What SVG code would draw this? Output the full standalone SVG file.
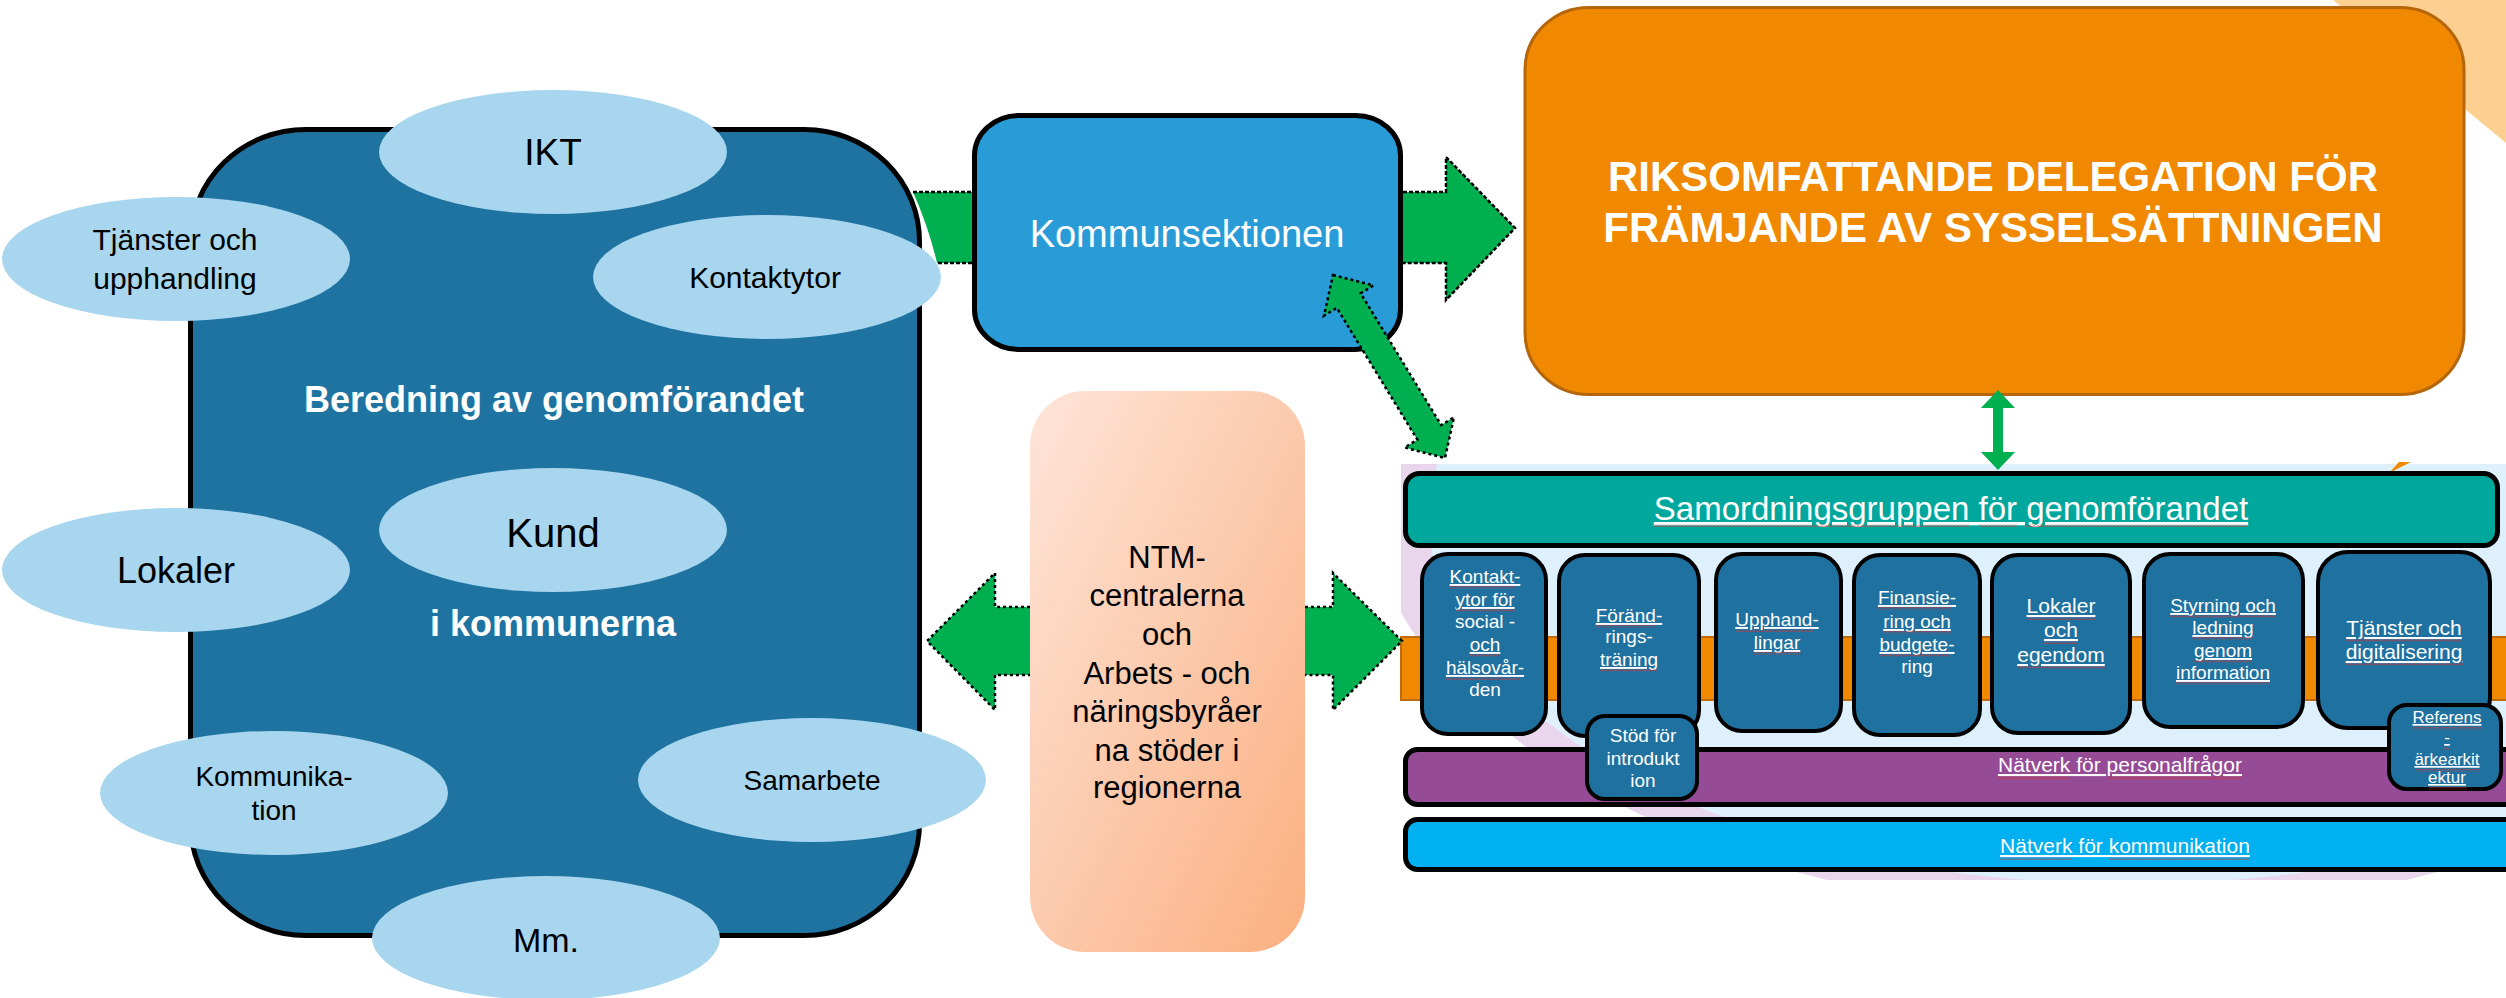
<svg xmlns="http://www.w3.org/2000/svg" width="2506" height="998" viewBox="0 0 2506 998">
<style>
text{font-family:"Liberation Sans",Arial,sans-serif}
.ell{fill:#A7D6EE}
.et{fill:#000;text-anchor:middle}
.wt{fill:#fff;text-anchor:middle}
.b{font-weight:bold}
.col{fill:#1F71A0;stroke:#000;stroke-width:4}
.bar{stroke:#000;stroke-width:5}
.u{text-decoration:underline}
.sq{fill:url(#sq)}
.arr{fill:#00B050;stroke:#000;stroke-width:2.5;stroke-dasharray:3 3}
</style>
<defs>
<pattern id="sq" width="4" height="3" patternUnits="userSpaceOnUse"><path d="M0,2.5 L2,0.5 L4,2.5" fill="none" stroke="#E0302A" stroke-width="0.9"/></pattern>
<linearGradient id="ntm" x1="0" y1="0" x2="1" y2="1"><stop offset="0" stop-color="#FDE5D9"/><stop offset="1" stop-color="#FBAF80"/></linearGradient>
<clipPath id="pc"><rect x="1401" y="464" width="1105" height="416"/></clipPath>
</defs>

<polygon points="2333,0 2506,0 2506,143" fill="#FDD092"/>

<g id="beredning">
<rect x="190.5" y="129.5" width="729" height="806" rx="115" ry="112" fill="#1F73A0" stroke="#000" stroke-width="5"/>
<text class="wt b" x="554" y="412" font-size="36">Beredning av genomförandet</text>
<text class="wt b" x="553" y="636" font-size="36">i kommunerna</text>
</g>
<g id="ikt"><ellipse class="ell" cx="553" cy="152" rx="174" ry="62"/><text class="et" x="553" y="165" font-size="37">IKT</text></g>
<g id="tjanster"><ellipse class="ell" cx="176" cy="259" rx="174" ry="62"/><text class="et" font-size="30"><tspan x="175" y="250">Tjänster och</tspan><tspan x="175" y="289">upphandling</tspan></text></g>
<g id="kontaktytor"><ellipse class="ell" cx="767" cy="277" rx="174" ry="62"/><text class="et" x="765" y="288" font-size="30">Kontaktytor</text></g>
<g id="kund"><ellipse class="ell" cx="553" cy="530" rx="174" ry="62"/><text class="et" x="553" y="547" font-size="40">Kund</text></g>
<g id="lokaler"><ellipse class="ell" cx="176" cy="570" rx="174" ry="62"/><text class="et" x="176" y="583" font-size="36">Lokaler</text></g>
<g id="kommunikation"><ellipse class="ell" cx="274" cy="793" rx="174" ry="62"/><text class="et" font-size="28"><tspan x="274" y="786">Kommunika-</tspan><tspan x="274" y="820">tion</tspan></text></g>
<g id="samarbete"><ellipse class="ell" cx="812" cy="780" rx="174" ry="62"/><text class="et" x="812" y="790" font-size="28">Samarbete</text></g>
<g id="mm"><ellipse class="ell" cx="546" cy="938" rx="174" ry="62"/><text class="et" x="546" y="952" font-size="34">Mm.</text></g>

<g id="kommunsektionen">
<rect x="974.5" y="115.5" width="426" height="234" rx="45" ry="40" fill="#299BD7" stroke="#000" stroke-width="5"/>
<text class="wt" x="1187" y="247" font-size="38">Kommunsektionen</text>
</g>

<g id="delegation">
<rect x="1525" y="7.5" width="939" height="387" rx="64" ry="62" fill="#F08800" stroke="#B5660A" stroke-width="3"/>
<text class="wt b" font-size="42"><tspan x="1993" y="191">RIKSOMFATTANDE DELEGATION FÖR</tspan><tspan x="1993" y="242">FRÄMJANDE AV SYSSELSÄTTNINGEN</tspan></text>
</g>

<g id="ntm">
<rect x="1030" y="391" width="275" height="561" rx="55" ry="55" fill="url(#ntm)"/>
<text class="et" font-size="31"><tspan x="1167" y="568">NTM-</tspan><tspan x="1167" y="606">centralerna</tspan><tspan x="1167" y="645">och</tspan><tspan x="1167" y="684">Arbets - och</tspan><tspan x="1167" y="722">näringsbyråer</tspan><tspan x="1167" y="761">na stöder i</tspan><tspan x="1167" y="798">regionerna</tspan></text>
</g>

<g id="panel-bakgrund" clip-path="url(#pc)">
<ellipse cx="2117" cy="468" rx="757" ry="446" fill="#E9D5EC"/>
<ellipse cx="2129" cy="520" rx="700" ry="364" fill="#DDF0FC"/>
</g>
<g id="orange-band">
<rect x="1401" y="637" width="1110" height="63" fill="#F08800" stroke="#C06A10" stroke-width="2"/>
<polygon points="2389,473 2399,462 2411,462" fill="#F08800"/>
</g>

<g id="samordningsgruppen">
<rect class="bar" x="1405.5" y="473.5" width="1092" height="72" rx="14" fill="#00A79D"/>
<text class="wt u" x="1951" y="520" font-size="33">Samordningsgruppen för genomförandet</text>
<rect class="sq" x="1654" y="524" width="315" height="3"/><rect class="sq" x="1979" y="524" width="38" height="3"/><rect class="sq" x="2026" y="524" width="222" height="3"/>
</g>

<g id="kontakt">
<rect class="col" x="1422" y="554" width="124" height="180" rx="26"/>
<text class="wt" font-size="19"><tspan class="u" x="1485" y="583">Kontakt-</tspan><tspan class="u" x="1485" y="606">ytor för</tspan><tspan x="1485" y="628">social -</tspan><tspan class="u" x="1485" y="651">och</tspan><tspan class="u" x="1485" y="674">hälsovår-</tspan><tspan x="1485" y="696">den</tspan></text>
<rect class="sq" x="1450" y="586" width="65" height="3"/><rect class="sq" x="1456" y="609" width="59" height="3"/><rect class="sq" x="1470" y="654" width="30" height="3"/><rect class="sq" x="1446" y="677" width="73" height="3"/>
</g>
<g id="forandring">
<rect class="col" x="1559" y="555" width="140" height="181" rx="26"/>
<text class="wt" font-size="19"><tspan class="u" x="1629" y="622">Föränd-</tspan><tspan x="1629" y="643">rings-</tspan><tspan class="u" x="1629" y="666">träning</tspan></text>
<rect class="sq" x="1596" y="625" width="60" height="3"/><rect class="sq" x="1600" y="669" width="58" height="3"/>
</g>
<g id="upphandlingar">
<rect class="col" x="1716" y="554" width="125" height="177" rx="26"/>
<text class="wt" font-size="19"><tspan class="u" x="1777" y="626">Upphand-</tspan><tspan class="u" x="1777" y="649">lingar</tspan></text>
<rect class="sq" x="1735" y="629" width="78" height="3"/><rect class="sq" x="1754" y="652" width="47" height="3"/>
</g>
<g id="finansiering">
<rect class="col" x="1854" y="555" width="126" height="180" rx="26"/>
<text class="wt" font-size="19"><tspan class="u" x="1917" y="604">Finansie-</tspan><tspan class="u" x="1917" y="628">ring och</tspan><tspan class="u" x="1917" y="651">budgete-</tspan><tspan x="1917" y="673">ring</tspan></text>
<rect class="sq" x="1878" y="607" width="73" height="3"/><rect class="sq" x="1883" y="631" width="68" height="3"/><rect class="sq" x="1880" y="654" width="70" height="3"/>
</g>
<g id="lokaler-egendom">
<rect class="col" x="1992" y="555" width="138" height="178" rx="26"/>
<text class="wt" font-size="21"><tspan class="u" x="2061" y="613">Lokaler</tspan><tspan class="u" x="2061" y="637">och</tspan><tspan class="u" x="2061" y="662">egendom</tspan></text>
<rect class="sq" x="2027" y="617" width="69" height="3"/><rect class="sq" x="2044" y="641" width="34" height="3"/><rect class="sq" x="2017" y="666" width="88" height="3"/>
</g>
<g id="styrning">
<rect class="col" x="2144" y="554" width="159" height="173" rx="26"/>
<text class="wt" font-size="19"><tspan class="u" x="2223" y="612">Styrning och</tspan><tspan class="u" x="2223" y="634">ledning</tspan><tspan class="u" x="2223" y="657">genom</tspan><tspan class="u" x="2223" y="679">information</tspan></text>
<rect class="sq" x="2170" y="615" width="106" height="3"/><rect class="sq" x="2192" y="637" width="61" height="3"/><rect class="sq" x="2194" y="660" width="58" height="3"/><rect class="sq" x="2176" y="682" width="94" height="3"/>
</g>
<g id="tjanster-digitalisering">
<rect class="col" x="2318" y="552" width="172" height="176" rx="30"/>
<text class="wt" font-size="21"><tspan class="u" x="2404" y="635">Tjänster och</tspan><tspan class="u" x="2404" y="659">digitalisering</tspan></text>
<rect class="sq" x="2346" y="639" width="116" height="3"/><rect class="sq" x="2346" y="663" width="117" height="3"/>
</g>

<g id="natverk-personal">
<rect class="bar" x="1405.5" y="749.5" width="1115" height="55" rx="12" fill="#954B96"/>
<text class="wt u" x="2120" y="772" font-size="21">Nätverk för personalfrågor</text>
<rect class="sq" x="1998" y="776" width="72" height="3"/><rect class="sq" x="2107" y="776" width="135" height="3"/>
</g>
<g id="natverk-kommunikation">
<rect class="bar" x="1405.5" y="819.5" width="1115" height="50" rx="12" fill="#00B0F0"/>
<text class="wt u" x="2125" y="853" font-size="21">Nätverk för kommunikation</text>
<rect class="sq" x="2000" y="857" width="72" height="3"/><rect class="sq" x="2109" y="857" width="141" height="3"/>
</g>

<g id="stod">
<rect class="col" x="1587" y="716" width="110" height="83" rx="18"/>
<text class="wt" font-size="19"><tspan x="1643" y="742">Stöd för</tspan><tspan x="1643" y="765">introdukt</tspan><tspan x="1643" y="787">ion</tspan></text>
</g>
<g id="referens">
<rect class="col" x="2389" y="705" width="112" height="84" rx="18"/>
<text class="wt" font-size="17"><tspan class="u" x="2447" y="723">Referens</tspan><tspan class="u" x="2447" y="743">-</tspan><tspan class="u" x="2447" y="765">ärkearkit</tspan><tspan class="u" x="2447" y="783">ektur</tspan></text>
<rect class="sq" x="2413" y="727" width="69" height="3"/><rect class="sq" x="2444" y="747" width="6" height="3"/><rect class="sq" x="2415" y="769" width="65" height="3"/><rect class="sq" x="2429" y="787" width="38" height="3"/>
</g>

<g id="connectors">
<path d="M913,192 H972 V263 H937 Q929,228 913,192 Z" fill="#00B050"/>
<path d="M913,192 H972 M972,263 H937" fill="none" stroke="#000" stroke-width="2.5" stroke-dasharray="4 2"/>
<path d="M1403,192 H1446 V157 L1515,228 L1446,300 V263 H1403" fill="#00B050" stroke="#000" stroke-width="2.5" stroke-dasharray="4 2"/>
<path class="arr" d="M1333,275 L1373.4,285.5 L1360.6,293.3 L1441.2,425.1 L1454,417.3 L1445,458 L1404.6,447.5 L1417.4,439.7 L1336.8,307.9 L1324,315.7 Z"/>
<path class="arr" d="M1030,607 H995 V573 L927,641 L995,710 V675 H1030"/>
<path class="arr" d="M1305,607 H1333 V573 L1402,641 L1333,710 V675 H1305"/>
<path d="M1998,390 L2015,408 H2003 V452 H2015 L1998,470 L1981,452 H1993 V408 H1981 Z" fill="#00B050"/>
</g>
</svg>
